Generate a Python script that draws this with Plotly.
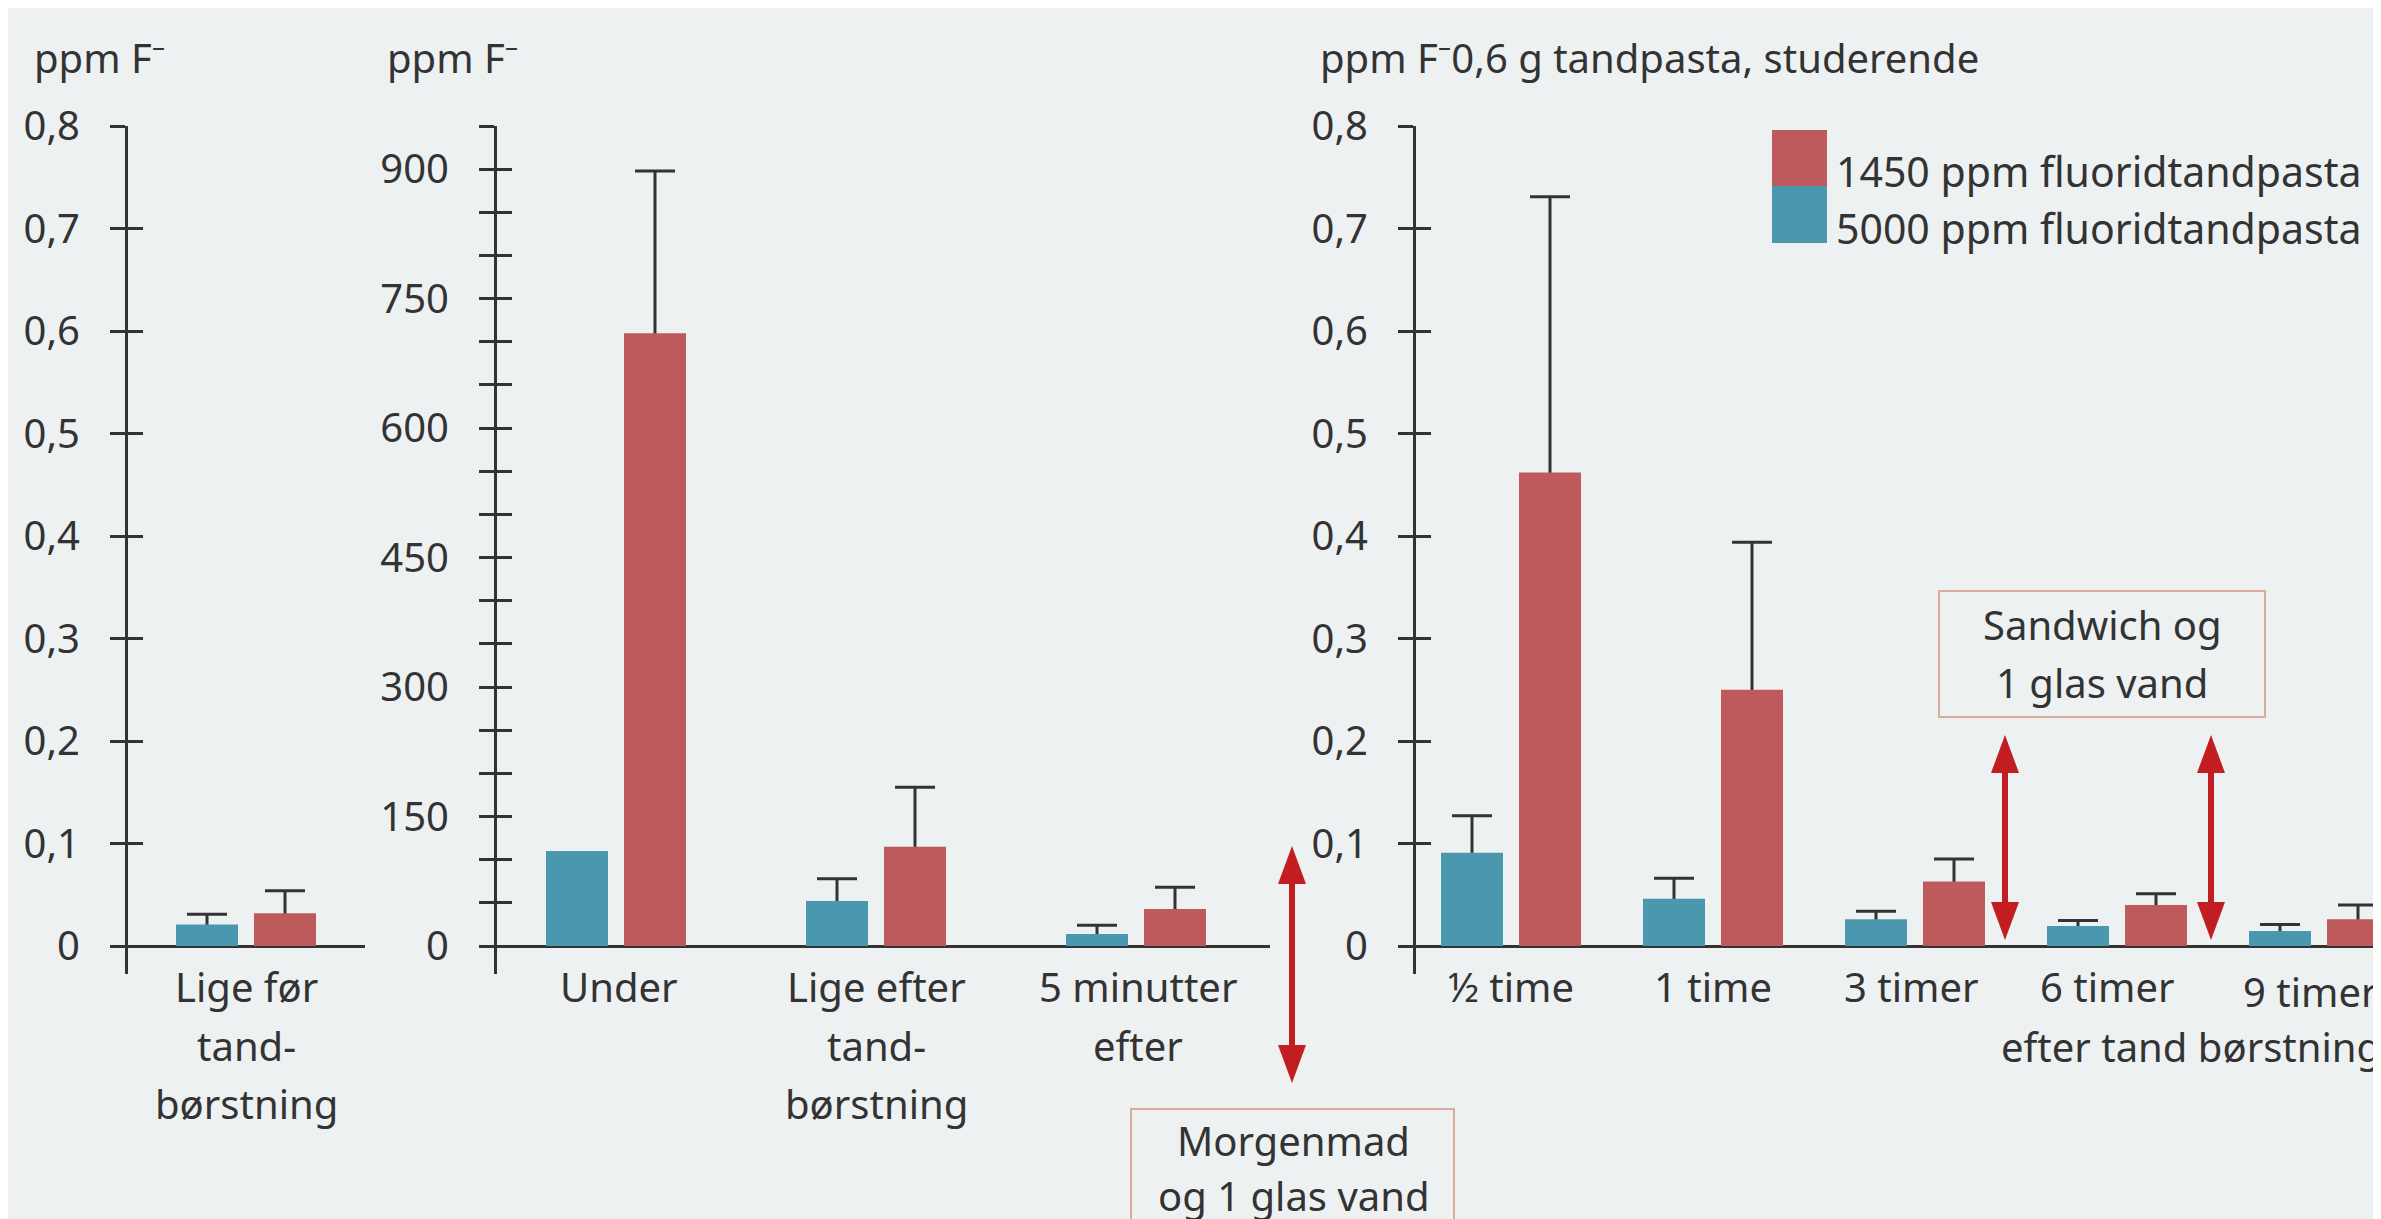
import plotly.graph_objects as go

# ---------------- data ----------------
cat_before = ["Lige før<br>tand-<br>børstning"]
cat_during = ["Under", "Lige efter<br>tand-<br>børstning", "5 minutter<br>efter"]
cat_after = ["½ time", "1 time", "3 timer", "6 timer", "9 timer"]

name_1450 = "1450 ppm fluoridtandpasta"
name_5000 = "5000 ppm fluoridtandpasta"

before_5000 = [0.021]
before_5000_err = [0.010]
before_1450 = [0.032]
before_1450_err = [0.022]

during_5000 = [110, 52, 14]
during_5000_err = [None, 26, 10]
during_1450 = [710, 115, 43]
during_1450_err = [188, 69, 25]

after_5000 = [0.091, 0.046, 0.026, 0.0195, 0.0146]
after_5000_err = [0.036, 0.020, 0.008, 0.0055, 0.0064]
after_1450 = [0.462, 0.250, 0.063, 0.040, 0.026]
after_1450_err = [0.269, 0.144, 0.022, 0.011, 0.014]

ticks_small = [0, 0.1, 0.2, 0.3, 0.4, 0.5, 0.6, 0.7, 0.8]
labels_small = ["0", "0,1", "0,2", "0,3", "0,4", "0,5", "0,6", "0,7", "0,8"]
ticks_large = [0, 50, 100, 150, 200, 250, 300, 350, 400, 450, 500,
               550, 600, 650, 700, 750, 800, 850, 900, 950]
labels_large = ["0", "", "", "150", "", "", "300", "", "", "450", "",
                "", "600", "", "", "750", "", "", "900", ""]

# ---------------- style / layout ----------------
W, H = 2381, 1219
TOP, BOT = 118, 966           # pixel rows of plot area top / bottom
ZERO = 938                    # pixel row of value 0
BG = "#eef1f2"
DARK = "#333333"
RED = "#be5a5b"
BLUE = "#4a98b0"
ARROW = "#c21d20"
BOXLINE = "#d9ab9a"
FONT = "Noto Sans"
FS = 40


def px(xp):
    return xp / W


def py(yp):
    return (BOT - yp) / (BOT - TOP)


span = ZERO - TOP
small_range = [-(BOT - ZERO) / span * 0.8, 0.8]
large_range = [-(BOT - ZERO) / span * 950, 950]

# panel geometry (pixels): y-axis x, right edge, first centre, spacing
panels = [
    dict(ax=120, right=357, c0=238, step=260, lshift=[0]),
    dict(ax=489, right=1262, c0=608, step=260, lshift=[3, 0, 2]),
    dict(ax=1408, right=2381, c0=1503, step=202, lshift=[0, 0, -4, -10, -9]),
]

fig = go.Figure()

series = [
    (cat_before, before_5000, before_5000_err, before_1450, before_1450_err),
    (cat_during, during_5000, during_5000_err, during_1450, during_1450_err),
    (cat_after, after_5000, after_5000_err, after_1450, after_1450_err),
]

for i, (cats, v5, e5, v1, e1) in enumerate(series):
    p = panels[i]
    xa = "x" if i == 0 else f"x{i+1}"
    ya = "y" if i == 0 else f"y{i+1}"
    yo = f"y{i+4}"            # overlay axis, drawn above -> visible bars
    bw = 62 / p["step"]
    for vals, errs, col, nm, off in [(v5, e5, BLUE, name_5000, -70),
                                     (v1, e1, RED, name_1450, 8)]:
        keep = [k for k, e in enumerate(errs) if e is not None]
        # error bar carrier (transparent bar, lower layer): lower end hidden at 0
        fig.add_trace(go.Bar(
            x=[cats[k] for k in keep], y=[vals[k] for k in keep],
            name=nm, xaxis=xa, yaxis=ya,
            width=bw, offset=off / p["step"],
            marker=dict(color=col, opacity=0, line=dict(width=0)),
            error_y=dict(type="data", array=[errs[k] for k in keep],
                         arrayminus=[vals[k] for k in keep],
                         symmetric=False, color=DARK, thickness=3, width=20),
            showlegend=False, hoverinfo="skip"))
        # visible bar (upper layer)
        fig.add_trace(go.Bar(
            x=cats, y=vals, name=nm, xaxis=xa, yaxis=yo,
            width=bw, offset=off / p["step"],
            marker=dict(color=col, line=dict(width=0)),
            showlegend=False, hoverinfo="skip"))

layout = dict(
    width=W, height=H,
    margin=dict(l=0, r=0, t=TOP, b=H - BOT, pad=0),
    paper_bgcolor=BG, plot_bgcolor=BG,
    font=dict(family=FONT, size=FS, color=DARK),
    barmode="overlay",
    showlegend=False,
)

all_cats = [cat_before, cat_during, cat_after]
for i, p in enumerate(panels):
    xk = "xaxis" if i == 0 else f"xaxis{i+1}"
    yk = "yaxis" if i == 0 else f"yaxis{i+1}"
    yid = "y" if i == 0 else f"y{i+1}"
    xid = "x" if i == 0 else f"x{i+1}"
    layout[xk] = dict(
        domain=[px(p["ax"]), px(p["right"])],
        type="category", categoryorder="array", categoryarray=all_cats[i],
        range=[(p["ax"] - p["c0"]) / p["step"], (p["right"] - p["c0"]) / p["step"]],
        anchor=yid, showline=False, ticks="", showgrid=False, zeroline=False,
        showticklabels=False, fixedrange=True,
    )
    big = (i == 1)
    tv = ticks_large if big else ticks_small
    tt = labels_large if big else labels_small
    rg = large_range if big else small_range
    layout[yk] = dict(
        domain=[0, 1], range=rg, anchor=xid,
        showline=True, linewidth=3, linecolor=DARK,
        ticks="outside", ticklen=15, tickwidth=3, tickcolor=DARK,
        tickmode="array", tickvals=tv, ticktext=tt,
        tickfont=dict(family=FONT, size=FS, color=DARK),
        ticklabelstandoff=22,
        zeroline=True, zerolinecolor=DARK, zerolinewidth=3,
        showgrid=False, fixedrange=True,
    )
    layout[f"yaxis{i+4}"] = dict(
        overlaying=yid, anchor=xid, side="left", range=rg,
        showline=False, ticks="inside", ticklen=15, tickwidth=3, tickcolor=DARK,
        tickmode="array", tickvals=tv, showticklabels=False,
        zeroline=False, showgrid=False, fixedrange=True,
    )

fig.update_layout(**layout)

# ---------------- annotations ----------------
ann = []


def text(x, y, s, xanchor="center", size=FS, xref="paper", xshift=0):
    ann.append(dict(x=px(x) if xref == "paper" else x, y=py(y), xref=xref, yref="paper",
                    text=s, showarrow=False, xanchor=xanchor, yanchor="middle",
                    xshift=xshift,
                    font=dict(family=FONT, size=size, color=DARK)))


# category labels, placed on the category axes
ROW0, ROWSTEP = 979, 58
for i, cats in enumerate(all_cats):
    xid = "x" if i == 0 else f"x{i+1}"
    for k, c in enumerate(cats):
        extra = 4 if (i == 2 and k == len(cats) - 1) else 0
        for j, line in enumerate(c.split("<br>")):
            text(c, ROW0 + ROWSTEP * j + extra, line, xref=xid,
                 xshift=panels[i]["lshift"][k])

text(2375, 1038, "efter tand børstning", "right")

text(24, 50, "ppm F⁻", "left")
text(377, 50, "ppm F⁻", "left")
text(1310, 49, "ppm F⁻0,6 g tandpasta, studerende", "left")
text(1826, 163, name_1450, "left", size=41)
text(1826, 220, name_5000, "left", size=41)
text(1285, 1132, "Morgenmad")
text(1285, 1187, "og 1 glas vand")
text(2094, 616, "Sandwich og")
text(2094, 674, "1 glas vand")

shapes = []
# legend squares
shapes.append(dict(type="rect", xref="paper", yref="paper",
                   x0=px(1764), x1=px(1819), y0=py(122), y1=py(178),
                   fillcolor=RED, line=dict(width=0)))
shapes.append(dict(type="rect", xref="paper", yref="paper",
                   x0=px(1764), x1=px(1819), y0=py(178), y1=py(235),
                   fillcolor=BLUE, line=dict(width=0)))
# boxes
shapes.append(dict(type="rect", xref="paper", yref="paper",
                   x0=px(1123), x1=px(1446), y0=py(1101), y1=py(1260),
                   line=dict(color=BOXLINE, width=2)))
shapes.append(dict(type="rect", xref="paper", yref="paper",
                   x0=px(1931), x1=px(2257), y0=py(583), y1=py(709),
                   line=dict(color=BOXLINE, width=2)))


def arrow(x, top, bottom):
    hl, hw = 38, 14
    shapes.append(dict(type="line", xref="paper", yref="paper",
                       x0=px(x), x1=px(x), y0=py(top + hl - 2), y1=py(bottom - hl + 2),
                       line=dict(color=ARROW, width=6)))
    shapes.append(dict(type="path", xref="paper", yref="paper",
                       path=f"M {px(x)},{py(top)} L {px(x-hw)},{py(top+hl)} L {px(x+hw)},{py(top+hl)} Z",
                       fillcolor=ARROW, line=dict(width=0)))
    shapes.append(dict(type="path", xref="paper", yref="paper",
                       path=f"M {px(x)},{py(bottom)} L {px(x-hw)},{py(bottom-hl)} L {px(x+hw)},{py(bottom-hl)} Z",
                       fillcolor=ARROW, line=dict(width=0)))


arrow(1284, 838, 1075)
arrow(1997, 727, 932)
arrow(2203, 727, 932)

fig.update_layout(annotations=ann, shapes=shapes)

fig.write_html("out.html")
